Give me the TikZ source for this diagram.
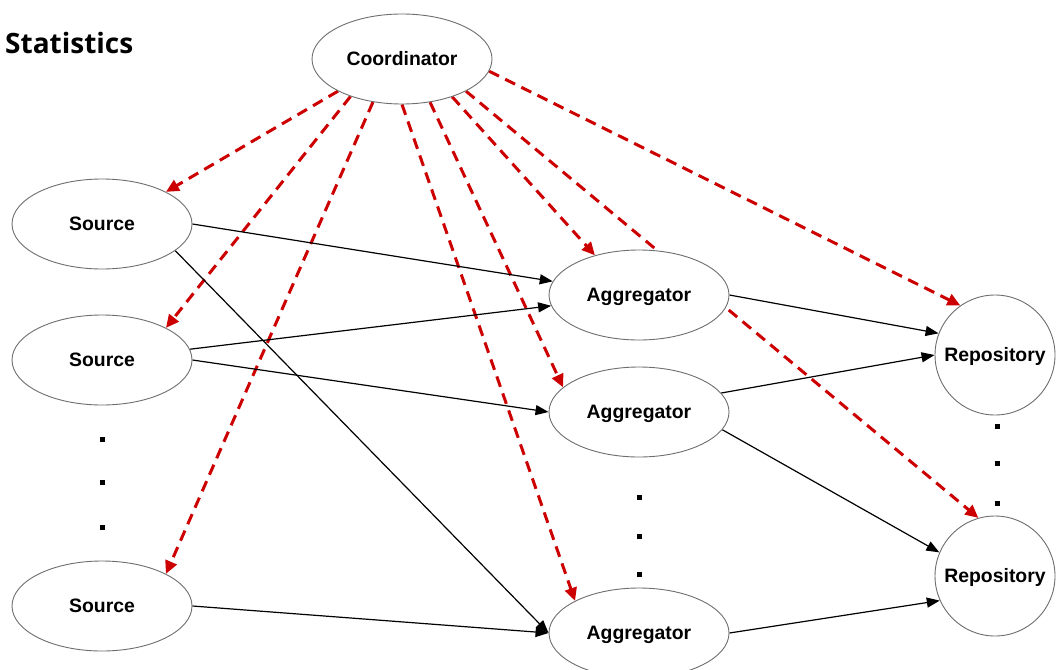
\documentclass[tikz,border=0pt]{standalone}
\usepackage{fontspec}
\setmainfont{Liberation Sans}
\newfontfamily\titlefont{Open Sans}
\usetikzlibrary{arrows.meta,backgrounds,shapes.geometric}
\definecolor{ctrlred}{RGB}{204,0,0}
\definecolor{rimgray}{RGB}{110,110,110}
\tikzset{
  labelfont/.style={font=\bfseries\fontsize{19.4}{22}\selectfont,
    text height=13.9pt, text depth=0pt},
  oval/.style={ellipse, draw=rimgray, line width=0.9pt, fill=white,
    minimum width=180pt, minimum height=90pt, inner sep=0pt, labelfont},
  store/.style={circle, draw=rimgray, line width=0.9pt, fill=white,
    minimum size=120pt, inner sep=0pt, labelfont},
  flow/.style={draw=black, line width=1.2pt, -{Triangle[length=13pt,width=10pt]}},
  ctrl/.style={draw=ctrlred, line width=3pt, dash pattern=on 11pt off 7pt,
    -{Triangle[length=13pt,width=12pt]}},
  ellipsis/.style={rectangle, fill=black, minimum size=5pt, inner sep=0pt},
}
\begin{document}
\begin{tikzpicture}[x=1pt,y=-1pt]
\useasboundingbox (0,0) rectangle (1062,669);

% title
\node[anchor=base west, inner sep=0pt, font=\titlefont\bfseries\fontsize{28}{32}\selectfont]
  (title) at (5,53) {Statistics};

% nodes
\node[oval] (coord) at (402,59) {Coordinator};

\node[oval] (src1) at (102,224) {Source};
\node[oval] (src2) at (102,360) {Source};
\node[oval] (src3) at (102,606) {Source};

\node[oval] (agg1) at (639,295) {Aggregator};
\node[oval] (agg2) at (639,412) {Aggregator};
\node[oval] (agg3) at (639,633) {Aggregator};

\node[store] (repo1) at (995,355) {Repository};
\node[store] (repo2) at (995,576) {Repository};

% vertical ellipses between repeated nodes
\node[ellipsis] (sdotA) at (102,439) {};
\node[ellipsis] (sdotB) at (102,482) {};
\node[ellipsis] (sdotC) at (102,527) {};
\node[ellipsis] (adotA) at (639,497) {};
\node[ellipsis] (adotB) at (639,536) {};
\node[ellipsis] (adotC) at (639,574) {};
\node[ellipsis] (rdotA) at (997,426) {};
\node[ellipsis] (rdotB) at (997,463) {};
\node[ellipsis] (rdotC) at (997,503) {};

\begin{pgfonlayer}{background}
  % control messages from the coordinator
  \draw[ctrl] (coord.south west) -- (src1.north east);
  \draw[ctrl] (coord.216) -- (src2.north east);
  \draw[ctrl] (coord.236) -- (src3.north east);
  \draw[ctrl] (coord.south) -- (agg3.north west);
  \draw[ctrl] (coord.303) -- (agg2.162);
  \draw[ctrl] (coord.323) -- (agg1.138);
  \draw[ctrl] (coord.south east) -- (repo2.106);
  \draw[ctrl] (coord.352) -- (repo1.125);

  % data flow
  \draw[flow] (src1.east) -- (agg1.171);
  \draw[flow] (src1.340) -- (agg3.west);
  \draw[flow] (src2.7) -- (agg1.187);
  \draw[flow] (src2.east) -- (agg2.west);
  \draw[flow] (src3.east) -- (agg3.west);
  \draw[flow] (agg1.east) -- (repo1.159);
  \draw[flow] (agg2.13) -- (repo1.west);
  \draw[flow] (agg2.348) -- (repo2.157);
  \draw[flow] (agg3.east) -- (repo2.204);
\end{pgfonlayer}
\end{tikzpicture}
\end{document}
